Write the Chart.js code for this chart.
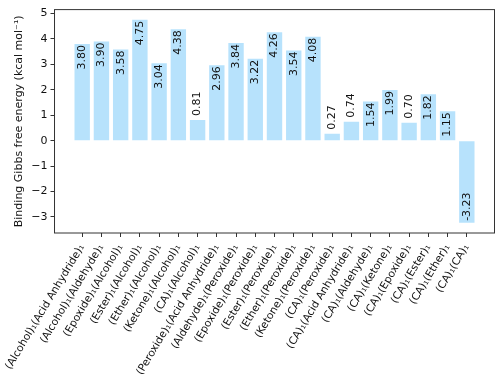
<!DOCTYPE html>
<html>
<head>
<meta charset="utf-8">
<script src="https://cdn.jsdelivr.net/npm/chart.js@4/dist/chart.umd.min.js"></script>
<style>
  html, body { margin: 0; padding: 0; background: #fff; }
  #wrap { width: 500px; height: 385px; }
</style>
</head>
<body>
<div id="wrap"><canvas id="gibbsChart" width="500" height="385"></canvas></div>
<script>
// pair labels and binding free energies (kcal/mol)
const pairs = [
    '(Alcohol)₁(Acid Anhydride)₁', '(Alcohol)₁(Aldehyde)₁', '(Epoxide)₁(Alcohol)₁',
    '(Ester)₁(Alcohol)₁', '(Ether)₁(Alcohol)₁', '(Ketone)₁(Alcohol)₁', '(CA)₁(Alcohol)₁',
    '(Peroxide)₁(Acid Anhydride)₁', '(Aldehyde)₁(Peroxide)₁', '(Epoxide)₁(Peroxide)₁',
    '(Ester)₁(Peroxide)₁', '(Ether)₁(Peroxide)₁', '(Ketone)₁(Peroxide)₁', '(CA)₁(Peroxide)₁',
    '(CA)₁(Acid Anhydride)₁', '(CA)₁(Aldehyde)₁', '(CA)₁(Ketone)₁', '(CA)₁(Epoxide)₁',
    '(CA)₁(Ester)₁', '(CA)₁(Ether)₁', '(CA)₁(CA)₁'
];
const energies = [3.80, 3.90, 3.58, 4.75, 3.04, 4.38, 0.81, 2.96, 3.84, 3.22, 4.26,
    3.54, 4.08, 0.27, 0.74, 1.54, 1.99, 0.70, 1.82, 1.15, -3.23];
const yTicks = [-3, -2, -1, 0, 1, 2, 3, 4, 5];

const FONT = 'DejaVu Sans';
const FSIZE = 11;

// box around the plot area, like matplotlib spines
const framePlugin = {
    id: 'frame',
    afterDatasetsDraw(chart) {
        const { ctx, chartArea: a } = chart;
        ctx.save();
        ctx.strokeStyle = '#333';
        ctx.lineWidth = 1;
        ctx.strokeRect(a.left, a.top, a.right - a.left, a.bottom - a.top);
        ctx.restore();
    }
};

// rotated value labels on each bar
const valuePlugin = {
    id: 'values',
    afterDatasetsDraw(chart) {
        const { ctx } = chart;
        const meta = chart.getDatasetMeta(0);
        const yScale = chart.scales.y;
        ctx.save();
        ctx.font = FSIZE + 'px "' + FONT + '"';
        ctx.fillStyle = '#111';
        ctx.textBaseline = 'middle';
        meta.data.forEach((bar, i) => {
            const v = energies[i];
            const txt = v.toFixed(2);
            const yEnd = yScale.getPixelForValue(v);
            ctx.save();
            if (v < 0) {
                ctx.translate(bar.x, yEnd - 2);
                ctx.rotate(-Math.PI / 2);
                ctx.textAlign = 'left';
            } else if (v < 1) {
                ctx.translate(bar.x, yEnd - 4);
                ctx.rotate(-Math.PI / 2);
                ctx.textAlign = 'left';
            } else {
                ctx.translate(bar.x, yEnd + 1);
                ctx.rotate(-Math.PI / 2);
                ctx.textAlign = 'right';
            }
            ctx.fillText(txt, 0, 0);
            ctx.restore();
        });
        ctx.restore();
    }
};

const ctx = document.getElementById('gibbsChart').getContext('2d');

new Chart(ctx, {
    type: 'bar',
    data: {
        datasets: [{
            data: energies.map((v, i) => ({ x: i, y: v })),
            backgroundColor: 'rgba(135, 206, 250, 0.6)',
            borderWidth: 0,
            categoryPercentage: 1,
            barPercentage: 0.8
        }]
    },
    options: {
        responsive: false,
        animation: false,
        events: [],
        layout: { padding: { top: 4, right: 5.5, left: 0, bottom: 0 } },
        plugins: {
            legend: { display: false },
            tooltip: { enabled: false }
        },
        scales: {
            x: {
                type: 'linear',
                min: -1.44,
                max: 21.44,
                offset: false,
                border: { display: false },
                grid: {
                    offset: false,
                    drawOnChartArea: false,
                    drawTicks: true,
                    tickLength: 4,
                    color: '#333'
                },
                afterBuildTicks(scale) {
                    scale.ticks = pairs.map((_, i) => ({ value: i }));
                },
                afterFit(scale) { scale.height = 152; },
                ticks: {
                    autoSkip: false,
                    minRotation: 59,
                    maxRotation: 59,
                    padding: 5,
                    color: '#111',
                    font: { family: FONT, size: 10.6 },
                    callback: (value) => pairs[value]
                }
            },
            y: {
                min: -3.629,
                max: 5.149,
                border: { display: false },
                grid: {
                    drawOnChartArea: false,
                    drawTicks: true,
                    tickLength: 4,
                    color: '#333'
                },
                afterBuildTicks(scale) {
                    scale.ticks = yTicks.map(v => ({ value: v }));
                },
                afterFit(scale) { scale.width = 50; },
                ticks: {
                    padding: 3,
                    color: '#111',
                    font: { family: FONT, size: FSIZE },
                    callback: (value) => String(value).replace('-', '\u2212')
                },
                title: {
                    display: true,
                    text: 'Binding Gibbs free energy (kcal mol⁻¹)',
                    color: '#111',
                    font: { family: FONT, size: FSIZE },
                    padding: { top: 8, bottom: 0 }
                }
            }
        }
    },
    plugins: [framePlugin, valuePlugin]
});
</script>
</body>
</html>
